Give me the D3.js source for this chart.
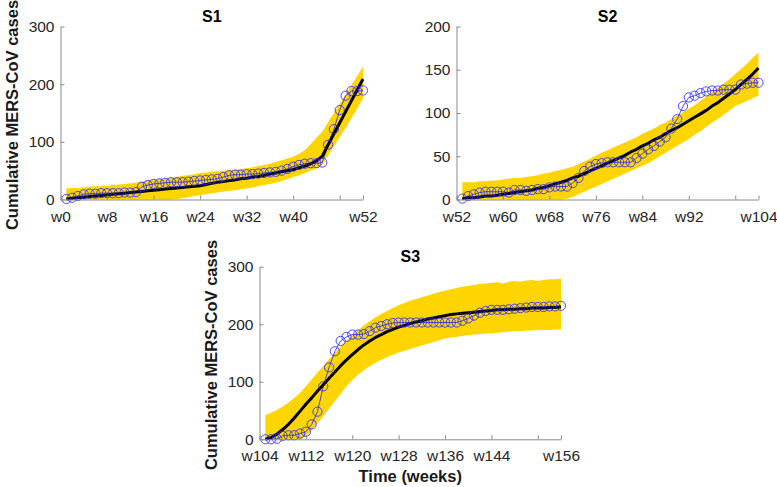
<!DOCTYPE html>
<html><head><meta charset="utf-8">
<script src="https://cdn.jsdelivr.net/npm/d3@7"></script>
<style>body{margin:0;background:#fff}svg{display:block}</style>
</head><body>
<svg id="chart" width="777" height="487"></svg>
<script>
// ---------- data ----------
const s1Weeks = [1,2,3,4,5,6,7,8,9,10,11,12,13,14,15,16,17,18,19,20,21,22,23,24,25,26,27,28,29,30,31,32,33,34,35,36,37,38,39,40,41,42,43,44,45,46,47,48,49,50,51,52];
const s2Weeks = [53,54,55,56,57,58,59,60,61,62,63,64,65,66,67,68,69,70,71,72,73,74,75,76,77,78,79,80,81,82,83,84,85,86,87,88,89,90,91,92,93,94,95,96,97,98,99,100,101,102,103,104];
const s3Weeks = [105,106,107,108,109,110,111,112,113,114,115,116,117,118,119,120,121,122,123,124,125,126,127,128,129,130,131,132,133,134,135,136,137,138,139,140,141,142,143,144,145,146,147,148,149,150,151,152,153,154,155,156];

const s1Observed = [1,3,6,9,10,10,11,11,11,11,12,12,13,22,25,27,28,29,30,30,30,31,32,33,34,35,36,39,42,43,43,44,44,45,46,47,48,50,53,57,60,62,63,63,64,95,122,155,180,188,188,189];
const s1Fit      = [1,2,3,4,5,6,7,8,9,10,11,12,13,14,15,16,17,18,19,20,21,22,23,24,26,28,30,31,33,34,36,37,39,40,42,44,46,48,50,52,55,58,62,67,75,95,114,133,152,171,190,209];
const s1Upper    = [19,20,20,21,22,23,23,24,25,26,27,28,29,31,33,34,35,36,37,39,41,42,44,46,47,48,49,50,51,52,53,54,56,58,60,62,65,68,71,74,79,86,96,107,118,134,150,166,182,198,214,230];
const s1Lower    = [0,0,0,0,0,0,0,0,0,0,0,0,0,0,0,0,0,0,0,1,2,4,6,8,9,11,12,14,15,16,18,19,21,23,25,27,29,32,35,39,42,46,50,54,60,76,92,108,124,141,158,175];

const s2Observed = [1,4,6,8,9,9,9,9,8,11,11,10,11,12,12,14,15,15,15,19,25,33,38,41,42,43,43,43,43,43,48,53,58,62,67,72,82,93,108,118,120,123,125,126,126,127,127,127,133,134,135,135];
const s2Fit      = [1,2,2,3,4,4,5,6,7,8,9,10,11,13,14,16,18,20,22,25,27,30,33,36,39,42,45,48,51,55,58,62,65,69,72,76,80,83,87,91,95,99,103,108,112,117,122,127,133,139,145,152];
const s2Upper    = [20,20,20,21,21,22,22,23,24,25,25,26,27,28,30,31,33,34,36,38,41,44,47,51,54,57,60,63,66,69,72,76,79,82,86,89,93,97,101,105,109,114,119,124,129,134,139,145,151,157,164,170];
const s2Lower    = [0,0,0,0,0,0,0,0,0,0,0,0,0,0,0,0,0,0,1,3,6,9,12,15,18,21,24,27,30,33,36,39,42,46,50,54,58,62,66,70,75,79,84,89,93,98,103,108,111,114,117,120];

const s3Observed = [0,0,1,6,7,7,10,13,26,48,92,125,153,171,178,182,182,183,188,194,197,200,202,203,203,203,203,203,203,203,203,203,203,203,206,210,215,220,223,225,225,225,226,227,228,229,230,230,230,231,231,232];
const s3Fit      = [0,3,9,17,26,37,49,61,72,84,95,106,117,128,138,147,156,164,171,177,182,187,191,195,198,201,204,206,209,211,213,215,217,218,219,220,221,222,223,224,225,225,226,226,227,227,228,228,228,229,229,230];
const s3Upper    = [42,46,51,57,64,72,81,92,104,116,127,139,150,161,171,181,190,198,205,212,218,223,228,233,237,241,244,247,250,253,256,258,261,263,265,267,268,270,271,272,273,271,274,275,274,276,277,275,277,278,278,279];
const s3Lower    = [0,0,0,0,0,0,0,5,16,28,40,53,66,79,92,103,112,120,127,133,138,143,147,151,154,157,160,163,166,169,172,175,177,178,180,181,182,183,184,184,185,186,187,188,188,189,189,190,190,190,191,191];

const s1XTicks = [0,8,16,24,32,40,48,52];
const s1XTickLabels = ['w0','w8','w16','w24','w32','w40','','w52'];
const s2XTicks = [52,60,68,76,84,92,100,104];
const s2XTickLabels = ['w52','w60','w68','w76','w84','w92','','w104'];
const s3XTicks = [104,112,120,128,136,144,152,156];
const s3XTickLabels = ['w104','w112','w120','w128','w136','w144','','w156'];
const s1YTicks = [0,100,200,300];
const s2YTicks = [0,50,100,150,200];
const s3YTicks = [0,100,200,300];

const panelTitles = ['S1','S2','S3'];
const yAxisTitle = 'Cumulative MERS-CoV cases';
const xAxisTitle = 'Time (weeks)';

// ---------- layout ----------
const FONT = '"Liberation Sans", Arial, Helvetica, sans-serif';
const panels = [
  {title:panelTitles[0], weeks:s1Weeks, obs:s1Observed, fit:s1Fit, up:s1Upper, lo:s1Lower,
   xDomain:[0,52], yDomain:[0,300], xTicks:s1XTicks, xLabels:s1XTickLabels, yTicks:s1YTicks,
   left:60.5, right:363, top:26.5, bottom:199.5, yTitleX:18, showX:false},
  {title:panelTitles[1], weeks:s2Weeks, obs:s2Observed, fit:s2Fit, up:s2Upper, lo:s2Lower,
   xDomain:[52,104], yDomain:[0,200], xTicks:s2XTicks, xLabels:s2XTickLabels, yTicks:s2YTicks,
   left:456.5, right:758.5, top:26.5, bottom:199.5, yTitleX:null, showX:false},
  {title:panelTitles[2], weeks:s3Weeks, obs:s3Observed, fit:s3Fit, up:s3Upper, lo:s3Lower,
   xDomain:[104,156], yDomain:[0,300], xTicks:s3XTicks, xLabels:s3XTickLabels, yTicks:s3YTicks,
   left:259.5, right:561, top:266.7, bottom:439.3, yTitleX:217, showX:true}
];

const svg = d3.select('#chart');

panels.forEach(p => {
  const x = d3.scaleLinear().domain(p.xDomain).range([p.left, p.right]);
  const y = d3.scaleLinear().domain(p.yDomain).range([p.bottom, p.top]);
  const g = svg.append('g');
  const idx = d3.range(p.weeks.length);

  // band
  const area = d3.area()
    .x(i => x(p.weeks[i]))
    .y0(i => y(p.lo[i]))
    .y1(i => y(p.up[i]));
  g.append('path').datum(idx).attr('d', area).attr('fill', '#FFD500').attr('stroke','none');

  // observed line
  const obsLine = d3.line().x(i => x(p.weeks[i])).y(i => y(p.obs[i]));
  g.append('path').datum(idx).attr('d', obsLine)
    .attr('fill','none').attr('stroke','#2020ff').attr('stroke-width',0.8);

  // fit line
  const fitLine = d3.line().x(i => x(p.weeks[i])).y(i => y(p.fit[i]));
  g.append('path').datum(idx).attr('d', fitLine)
    .attr('fill','none').attr('stroke','#000').attr('stroke-width',3)
    .attr('stroke-linejoin','round');

  // observed circles
  g.selectAll('circle.obs').data(idx).enter().append('circle')
    .attr('class','obs')
    .attr('cx', i => x(p.weeks[i])).attr('cy', i => y(p.obs[i])).attr('r', 4.6)
    .attr('fill','none').attr('stroke','#2a2aff').attr('stroke-width',0.85);

  // axes
  const xAxis = d3.axisBottom(x).tickValues(p.xTicks)
    .tickFormat((d,i) => p.xLabels[i]).tickSizeInner(-4).tickSizeOuter(0).tickPadding(11);
  const ax = g.append('g').attr('transform', `translate(0,${p.bottom})`).call(xAxis);
  const yAxis = d3.axisLeft(y).tickValues(p.yTicks).tickSizeInner(-4).tickSizeOuter(0).tickPadding(6);
  const ay = g.append('g').attr('transform', `translate(${p.left},0)`).call(yAxis);
  [ax, ay].forEach(a => {
    a.select('.domain').attr('stroke','#8a8a8a').attr('stroke-width',1);
    a.selectAll('.tick line').attr('stroke','#8a8a8a');
    a.selectAll('.tick text').attr('fill','#262626').style('font-family',FONT).style('font-size','15.5px');
  });

  // title
  g.append('text').attr('x', (p.left+p.right)/2).attr('y', p.top-5)
    .attr('text-anchor','middle').style('font-family',FONT).style('font-size','16px')
    .style('font-weight','bold').attr('fill','#000').text(p.title);

  if (p.yTitleX !== null) {
    g.append('text')
      .attr('transform', `translate(${p.yTitleX},${(p.top+p.bottom)/2+2}) rotate(-90)`)
      .attr('text-anchor','middle').style('font-family',FONT).style('font-size','16.5px')
      .style('font-weight','bold').attr('fill','#1a1a1a').text(yAxisTitle);
  }
  if (p.showX) {
    g.append('text').attr('x', (p.left+p.right)/2).attr('y', 482)
      .attr('text-anchor','middle').style('font-family',FONT).style('font-size','16.5px')
      .style('font-weight','bold').attr('fill','#1a1a1a').text(xAxisTitle);
  }
});
</script>
</body></html>
